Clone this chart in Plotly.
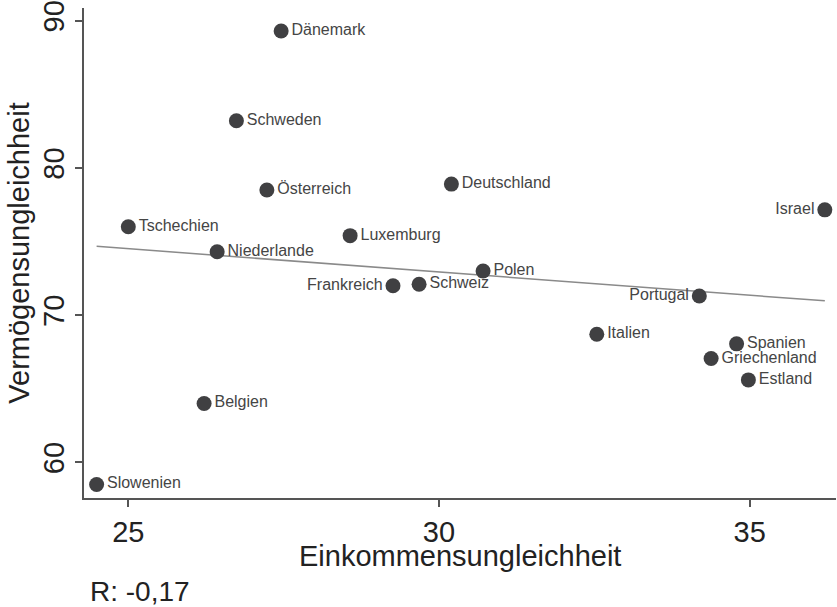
import numpy as np
import plotly.graph_objects as go

countries = ["Dänemark", "Schweden", "Österreich", "Deutschland", "Israel", "Tschechien",
             "Niederlande", "Luxemburg", "Polen", "Frankreich", "Schweiz", "Portugal",
             "Italien", "Spanien", "Griechenland", "Estland", "Belgien", "Slowenien"]
einkommen = [27.46, 26.74, 27.23, 30.20, 36.21, 25.00,
             26.43, 28.57, 30.71, 29.26, 29.68, 34.19,
             32.54, 34.79, 34.38, 34.98, 26.22, 24.49]
vermoegen = [89.3, 83.2, 78.5, 78.9, 77.15, 76.0,
             74.3, 75.4, 73.0, 72.0, 72.1, 71.3,
             68.7, 68.05, 67.05, 65.6, 64.0, 58.5]
x_ticks = [25, 30, 35]
y_ticks = [60, 70, 80, 90]

left_labels = {"Israel", "Portugal", "Frankreich"}
positions = ["middle left" if c in left_labels else "middle right" for c in countries]

FONT = "Arial, Liberation Sans, sans-serif"

x = np.array(einkommen)
y = np.array(vermoegen)
slope, intercept = np.polyfit(x, y, 1)
fit_x = [x.min(), x.max()]
fit_y = [slope * v + intercept for v in fit_x]

fig = go.Figure()
fig.add_trace(go.Scatter(x=fit_x, y=fit_y, mode="lines",
                         line=dict(color="#8a8a8a", width=1.5),
                         hoverinfo="skip", showlegend=False))
fig.add_trace(go.Scatter(x=einkommen, y=vermoegen, mode="markers+text",
                         text=countries, textposition=positions,
                         textfont=dict(family=FONT, size=16, color="#454545"),
                         marker=dict(size=15, color="#404042"),
                         cliponaxis=False, showlegend=False))

fig.update_layout(
    width=837, height=607,
    margin=dict(l=84, r=1, t=8, b=109),
    plot_bgcolor="white", paper_bgcolor="white",
    font=dict(family=FONT, color="#222222"),
    xaxis=dict(range=[24.287, 36.39], tickvals=x_ticks, showgrid=False, zeroline=False,
               automargin=False,
               showline=True, linecolor="#555555", linewidth=1.5,
               ticks="outside", ticklen=7, tickcolor="#555555", tickwidth=1.5,
               tickfont=dict(size=29, family=FONT, color="#222222")),
    yaxis=dict(range=[57.58, 90.86], tickvals=y_ticks, showgrid=False, zeroline=False,
               automargin=False,
               showline=True, linecolor="#555555", linewidth=1.5,
               ticks="outside", ticklen=7, tickcolor="#555555", tickwidth=1.5,
               tickangle=-90,
               tickfont=dict(size=29, family=FONT, color="#222222"),
               title=dict(text="Vermögensungleichheit", font=dict(size=29, family=FONT, color="#222222"),
                          standoff=0)),
    annotations=[
        dict(text="Einkommensungleichheit", xref="paper", yref="paper", x=0.5, y=-0.1177,
             xanchor="center", yanchor="middle", showarrow=False,
             font=dict(size=29, family=FONT, color="#222222")),
        dict(text="R: -0,17", xref="paper", yref="paper", x=0.005, y=-0.191,
             xanchor="left", yanchor="middle", showarrow=False,
             font=dict(size=28, family=FONT, color="#222222")),
    ],
)

fig.write_html("out.html", config={"displayModeBar": False},
               post_script="document.body.style.margin='0';")
